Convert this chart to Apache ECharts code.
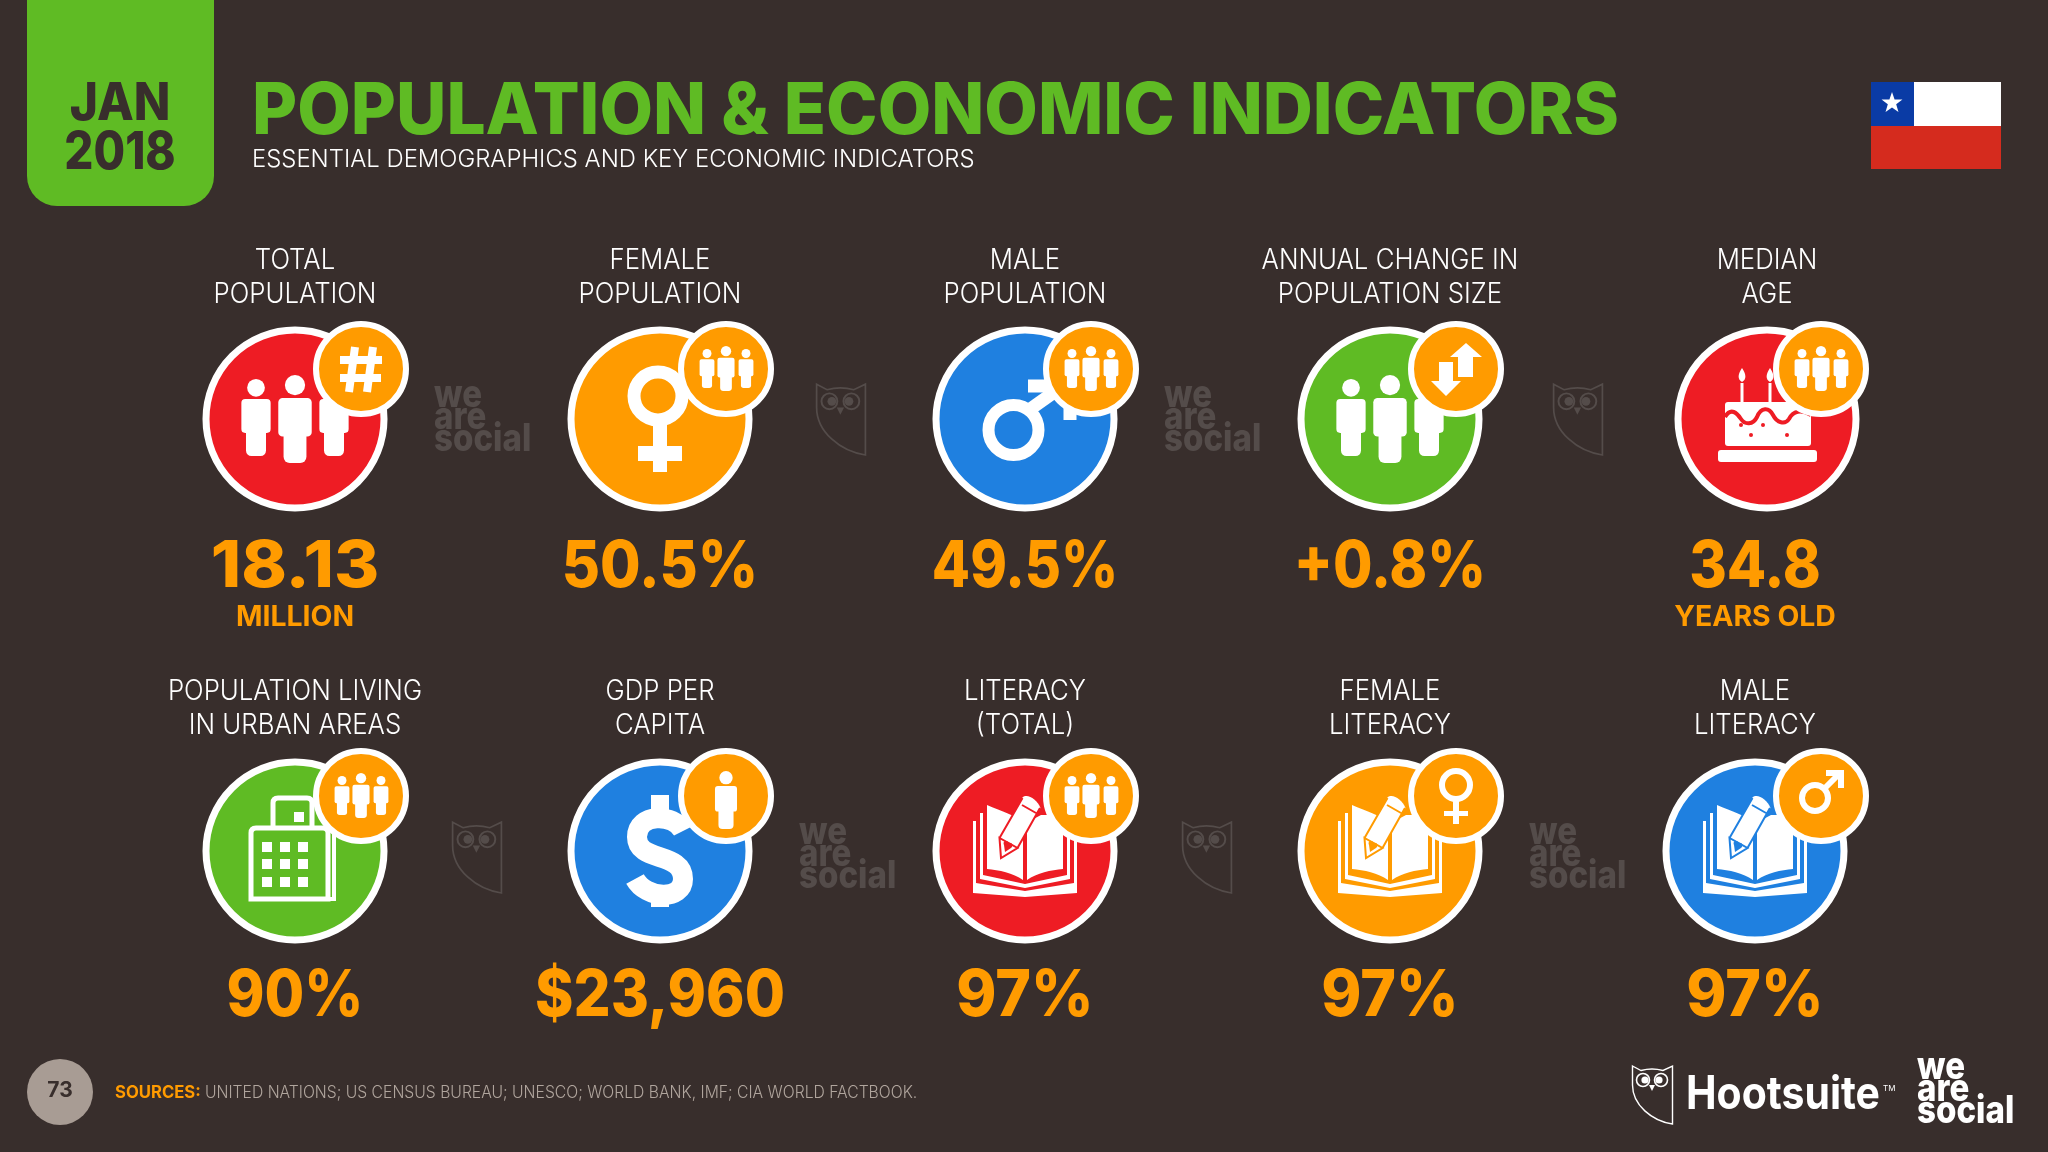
<!DOCTYPE html>
<html>
<head>
<meta charset="utf-8">
<title>Population & Economic Indicators</title>
<style>
html,body{margin:0;padding:0;background:#382e2c;}
#main{width:2048px;height:1152px;}
</style>
<script src="https://cdn.jsdelivr.net/npm/echarts@6/dist/echarts.min.js"></script>
</head>
<body>
<div id="main"></div>
<script>
/*chart data*/
var columns = ['col1','col2','col3','col4','col5'];
var rows = ['row1','row2'];
var indicators = [
    ['TOTAL','POPULATION'],['FEMALE','POPULATION'],['MALE','POPULATION'],['ANNUAL CHANGE IN','POPULATION SIZE'],['MEDIAN','AGE'],
    ['POPULATION LIVING','IN URBAN AREAS'],['GDP PER','CAPITA'],['LITERACY','(TOTAL)'],['FEMALE','LITERACY'],['MALE','LITERACY']
];
var values = ['18.13','50.5%','49.5%','+0.8%','34.8','90%','$23,960','97%','97%','97%'];
var units = ['MILLION','','','','YEARS OLD','','','','',''];
var mainIcons = ['people','female','male','people','cake','building','dollar','book','book','book'];
var badgeIcons = ['hash','people','people','updown','people','people','person','people','female','male'];
var sources = 'UNITED NATIONS; US CENSUS BUREAU; UNESCO; WORLD BANK, IMF; CIA WORLD FACTBOOK.';

/*colours*/
var BG = '#382e2c', GREEN = '#5fbb24', RED = '#ee1c24', ORANGE = '#ff9b00', BLUE = '#1f80e0', WHITE = '#ffffff';
var discColors = [RED,ORANGE,BLUE,GREEN,RED,GREEN,BLUE,RED,ORANGE,BLUE];
var FONT = 'Inter';
/*horizontal squeeze of each big number, the original face has other digit widths*/
var valueScale = [1.077,0.918,0.869,0.894,0.896,0.897,0.911,0.95,0.95,0.95];

var cells = values.map(function (v, i) {
    return [i % 5, Math.floor(i / 5)];
});
/*the median age disc sits a little right of its column*/
function nudge(i) {
    return i === 4 ? 12 : 0;
}

/*shape helpers, local coordinates*/
function rect(x, y, w, h, fill, r) {
    return {type: 'rect', shape: {x: x, y: y, width: w, height: h, r: r || 0}, style: {fill: fill}};
}
function circle(x, y, r, fill) {
    return {type: 'circle', shape: {cx: x, cy: y, r: r}, style: {fill: fill}};
}
function ring(x, y, r, lw, color) {
    return {type: 'circle', shape: {cx: x, cy: y, r: r}, style: {fill: 'none', stroke: color, lineWidth: lw}};
}
function stroke(d, lw, color) {
    return {type: 'path', shape: {pathData: d}, style: {fill: 'none', stroke: color, lineWidth: lw}};
}
function fillPath(d, color) {
    return {type: 'path', shape: {pathData: d}, style: {fill: color}};
}
function person(cx, top, h) {
    return [
        circle(cx, top + 0.115 * h, 0.115 * h, WHITE),
        rect(cx - 0.19 * h, top + 0.26 * h, 0.38 * h, 0.44 * h, WHITE, 0.05 * h),
        rect(cx - 0.13 * h, top + 0.5 * h, 0.26 * h, 0.5 * h, WHITE, 0.07 * h)
    ];
}

function bookIcon(color) {
    return [
        fillPath('M-52 -30 L-49 -30 L-49 32 L0 40 L49 32 L49 -30 L52 -30 L52 42 L0 46 L-52 42 Z', WHITE),
        fillPath('M-45 -38 L-42 -38 L-42 24 L0 33 L42 24 L42 -38 L45 -38 L45 28 L0 37 L-45 28 Z', WHITE),
        fillPath('M-38 -46 C-24 -40 -10 -36 -2 -28 L-2 29 C-12 22 -26 19 -38 18 Z', WHITE),
        fillPath('M2 -28 C6 -31 12 -34 16 -36 L38 -36 L38 18 C26 19 12 22 2 29 Z', WHITE),
        fillPath('M-24 7 L-25.5 -13 L-2.5 -53.5 C2 -58 12 -52 15.5 -43 L-8 -3 Z', WHITE),
        stroke('M-24 7 L-25.5 -13 L-7.5 -3 Z M-25.5 -13 L-2.5 -53 M-7.5 -3 L15 -43 M-3 -46 L11 -38', 2, color),
        fillPath('M-21 -6 C-23 -11 -17 -11 -16 -8 C-13 -9 -11 -5 -14 -3 L-20 1 Z', color)
    ];
}

function mainIcon(name, color) {
    if (name === 'people') {
        return person(39, -40, 77).concat(person(-39, -40, 77), person(0, -44, 88));
    }
    if (name === 'female') {
        return [
            ring(-2, -23, 24, 13, WHITE),
            rect(-7, 5, 14, 48, WHITE),
            rect(-22, 27, 44, 15, WHITE)
        ];
    }
    if (name === 'male') {
        return [
            ring(-11.5, 11, 25, 12, WHITE),
            stroke('M4 -9 L42 -36', 13, WHITE),
            stroke('M3 -33 L45 -33 L45 1', 13, WHITE)
        ];
    }
    if (name === 'cake') {
        return [
            rect(-26.5, -36, 3, 20, WHITE),
            rect(1.5, -36, 3, 20, WHITE),
            fillPath('M-25 -51 C-21 -45 -20 -40 -25 -37 C-30 -40 -29 -45 -25 -51 Z', WHITE),
            fillPath('M3 -51 C7 -45 8 -40 3 -37 C-2 -40 -1 -45 3 -51 Z', WHITE),
            rect(-42, -17, 86, 44, WHITE, 3),
            stroke('M-42 -2 C-36 -12 -30 -6 -26 0 C-22 6 -14 6 -10 -2 C-6 -12 2 -12 6 -4 C10 4 18 6 22 0 C26 -8 34 -10 44 -4', 4, color),
            circle(-26, 6, 2, color), circle(-4, 6, 2, color), circle(-16, 16, 2, color), circle(20, 16, 2, color),
            rect(-49, 31, 99, 12, WHITE, 3)
        ];
    }
    if (name === 'building') {
        var kids = [
            stroke('M-22 -21 L-22 -48 Q-22 -53 -17 -53 L12 -53 Q17 -53 17 -48 L17 -21', 5, WHITE),
            rect(-1, -39, 10, 10, WHITE),
            stroke('M39 -21 L39 48 L32 48', 4, WHITE),
            stroke('M-44 48 L-44 -18 Q-44 -23 -39 -23 L28 -23 Q33 -23 33 -18 L33 48 Z', 5, WHITE)
        ];
        [-33, -15, 3].forEach(function (x) {
            [-9, 8, 26].forEach(function (y) {
                kids.push(rect(x, y, 10, 10, WHITE));
            });
        });
        return kids;
    }
    if (name === 'dollar') {
        return [
            stroke('M23 -20 C14 -38 -23 -38 -23 -14 C-23 12 23 0 23 28 C23 50 -14 48 -25 28', 20, WHITE),
            rect(-9, -56, 18, 24, WHITE),
            rect(-9, 34, 18, 22, WHITE)
        ];
    }
    return bookIcon(color);
}

function badgeIcon(name) {
    if (name === 'people') {
        return person(20, -20, 39).concat(person(-19, -20, 39), person(0, -23, 45));
    }
    if (name === 'person') {
        return person(0, -25, 58);
    }
    if (name === 'hash') {
        return [stroke('M-6 -22 L-12 23 M12 -22 L6 23 M-21 -9 L21 -9 M-21 9 L20 9', 8, WHITE)];
    }
    if (name === 'updown') {
        return [
            fillPath('M10 -26 L26 -12 L17 -12 L17 8 L2 8 L2 -12 L-6 -12 Z', WHITE),
            fillPath('M-10 27 L5 12 L-3 12 L-3 -7 L-17 -7 L-17 12 L-25 12 Z', WHITE)
        ];
    }
    if (name === 'female') {
        return [
            ring(0, -11, 14, 6, WHITE),
            rect(-3, 3, 6, 25, WHITE),
            rect(-12, 15, 24, 5, WHITE)
        ];
    }
    return [
        ring(-6, 2, 13, 6, WHITE),
        stroke('M3 -7 L19 -23', 6, WHITE),
        stroke('M5 -23 L20 -23 L20 -8', 6, WHITE)
    ];
}

function renderMain(params, api) {
    var p = api.coord([api.value(0), api.value(1)]);
    var i = params.dataIndex;
    return {
        type: 'group', x: p[0] + nudge(i), y: p[1],
        children: mainIcon(mainIcons[i], discColors[i])
    };
}
function renderBadge(params, api) {
    var p = api.coord([api.value(0), api.value(1)]);
    var i = params.dataIndex;
    return {
        type: 'group', x: p[0] + 66, y: p[1] - 50 - (i >= 5 ? 5 : 0),
        children: badgeIcon(badgeIcons[i])
    };
}
function label(text, x, y, size, weight, color, sx) {
    return {
        type: 'text', x: x, y: y, scaleX: sx,
        style: {
            text: text, fontFamily: FONT, fontSize: size, fontWeight: weight, fill: color,
            align: 'center', verticalAlign: 'middle'
        }
    };
}
function renderText(params, api) {
    var p = api.coord([api.value(0), api.value(1)]);
    var i = params.dataIndex;
    var r2 = i >= 5;
    var kids = [
        label(indicators[i][0], nudge(i), r2 ? -159 : -158, 28, 300, WHITE, 0.92),
        label(indicators[i][1], nudge(i), r2 ? -125 : -124, 28, 300, WHITE, 0.92),
        label(values[i], 0, r2 ? 146 : 149, 64, 800, ORANGE, valueScale[i])
    ];
    if (units[i]) {
        kids.push(label(units[i], 0, 198, 29, 700, ORANGE, 0.98));
    }
    return {type: 'group', x: p[0], y: p[1], children: kids};
}

/*logos and page furniture*/
function owl(x, y, s, color) {
    return {
        type: 'group', x: x, y: y, scaleX: s, scaleY: s,
        children: [
            stroke('M0.5 1 L9 5.5 Q20 2.5 31 5.5 L40.5 1 L40.5 59 C20 56 0.5 40 0.5 20 Z', 1.4, color),
            ring(11, 15, 6.5, 1.6, color), ring(29, 15, 6.5, 1.6, color),
            circle(13, 15, 3.6, color), circle(27, 15, 3.6, color),
            fillPath('M17 20 L23 20 L20 26 Z', color)
        ]
    };
}
function renderOwls() {
    return {
        type: 'group',
        children: [
            owl(816, 383, 1.22, WATERMARK),
            owl(1553, 383, 1.22, WATERMARK),
            owl(452, 821, 1.22, WATERMARK),
            owl(1182, 821, 1.22, WATERMARK),
            owl(1632, 1065, 1, WHITE)
        ]
    };
}
function logoLine(text, x, y, color) {
    return {
        type: 'text', x: x, y: y, scaleX: 0.87,
        style: {text: text, fontFamily: FONT, fontSize: 38, fontWeight: 800, fill: color, align: 'left', verticalAlign: 'bottom'}
    };
}
function wordmark(x, y, color) {
    return {
        type: 'group', x: x, y: y,
        children: [
            logoLine('we', 0, 0, color),
            logoLine('are', 0, 22, color),
            logoLine('social', 0, 44, color)
        ]
    };
}
function headerText(text, x, y, size, weight, color, sx, align) {
    return {
        type: 'text', x: x, y: y, scaleX: sx,
        style: {text: text, fontFamily: FONT, fontSize: size, fontWeight: weight, fill: color, align: align || 'left', verticalAlign: 'middle'}
    };
}
function star(cx, cy, r) {
    var pts = [];
    for (var k = 0; k < 10; k++) {
        var a = -Math.PI / 2 + k * Math.PI / 5;
        var rr = k % 2 ? r * 0.4 : r;
        pts.push([cx + rr * Math.cos(a), cy + rr * Math.sin(a)]);
    }
    return {type: 'polygon', shape: {points: pts}, style: {fill: WHITE}};
}

var WATERMARK = '#544c4a';
var graphics = [
    {type: 'rect', shape: {x: 27, y: -40, width: 187, height: 246, r: 30}, style: {fill: GREEN}},
    headerText('JAN', 120, 104, 52, 800, BG, 0.92, 'center'),
    headerText('2018', 120, 153, 52, 800, BG, 0.88, 'center'),
    headerText('POPULATION & ECONOMIC INDICATORS', 252, 112, 72, 800, GREEN, 0.963),
    headerText('ESSENTIAL DEMOGRAPHICS AND KEY ECONOMIC INDICATORS', 252, 160, 24, 300, WHITE, 0.995),
    {type: 'rect', shape: {x: 1871, y: 82, width: 130, height: 87}, style: {fill: '#d52b1e'}},
    {type: 'rect', shape: {x: 1914, y: 82, width: 87, height: 44}, style: {fill: WHITE}},
    {type: 'rect', shape: {x: 1871, y: 82, width: 43, height: 44}, style: {fill: '#0a3ba5'}},
    star(1892, 103, 11),
    wordmark(434, 415, WATERMARK),
    wordmark(1164, 415, WATERMARK),
    wordmark(799, 852, WATERMARK),
    wordmark(1529, 852, WATERMARK),
    {type: 'circle', shape: {cx: 60, cy: 1092, r: 33}, style: {fill: '#a89c94'}},
    headerText('73', 60, 1091, 21, 700, BG, 1, 'center'),
    headerText('SOURCES:', 115, 1093, 17, 700, ORANGE, 0.98),
    headerText(sources, 205, 1093, 17, 300, '#b0a59d', 0.924),
    headerText('Hootsuite', 1686, 1095, 46, 700, WHITE, 0.89),
    headerText('TM', 1883, 1089, 8, 400, WHITE, 1),
    wordmark(1917, 1087, WHITE)
];

var myChart = echarts.init(document.getElementById('main'));
var option = {
    animation: false,
    backgroundColor: BG,
    grid: {left: 112.5, top: 203, width: 1825, height: 864},
    xAxis: {type: 'category', data: columns, show: false},
    yAxis: {type: 'category', data: rows, inverse: true, show: false},
    graphic: {elements: graphics},
    series: [
        {
            type: 'scatter', name: 'disc', silent: true, clip: false, z: 2,
            symbolSize: 178,
            data: cells.map(function (c, i) {
                return {
                    value: c,
                    symbolOffset: [nudge(i), 0],
                    itemStyle: {color: discColors[i], opacity: 1, borderColor: WHITE, borderWidth: 7}
                };
            })
        },
        {type: 'custom', name: 'icon', silent: true, clip: false, z: 3, encode: {x: 0, y: 1}, renderItem: renderMain, data: cells},
        {
            type: 'scatter', name: 'badge', silent: true, clip: false, z: 4,
            symbolSize: 90,
            data: cells.map(function (c, i) {
                return {
                    value: c,
                    symbolOffset: [66, i >= 5 ? -55 : -50],
                    itemStyle: {color: ORANGE, opacity: 1, borderColor: WHITE, borderWidth: 6}
                };
            })
        },
        {type: 'custom', name: 'badgeIcon', silent: true, clip: false, z: 5, encode: {x: 0, y: 1}, renderItem: renderBadge, data: cells},
        {type: 'custom', name: 'text', silent: true, clip: false, z: 6, encode: {x: 0, y: 1}, renderItem: renderText, data: cells},
        {type: 'custom', name: 'owls', silent: true, clip: false, z: 6, encode: {x: 0, y: 1}, renderItem: renderOwls, data: [[0, 0]]}
    ]
};
myChart.setOption(option);
</script>
</body>
</html>
